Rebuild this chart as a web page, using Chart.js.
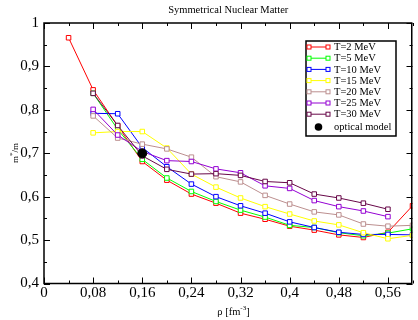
<!DOCTYPE html>
<html>
<head>
<meta charset="utf-8">
<script src="https://cdn.jsdelivr.net/npm/chart.js@4.4.0/dist/chart.umd.min.js"></script>
<style>
  html, body { margin: 0; padding: 0; background: #fff; }
  #wrap { width: 418px; height: 320px; }
</style>
</head>
<body>
<div id="wrap"><canvas id="chart" width="418" height="320"></canvas></div>
<script>
  // densities rho [fm^-3]
  const rho = [0.04, 0.08, 0.12, 0.16, 0.20, 0.24, 0.28, 0.32, 0.36, 0.40, 0.44, 0.48, 0.52, 0.56, 0.60];

  // effective mass ratio m*/m for each temperature
  const t2  = [0.966, 0.846, 0.763, 0.681, 0.638, 0.606, 0.585, 0.562, 0.548, 0.532, 0.523, 0.512, 0.506, 0.518, 0.579];
  const t5  = [null, 0.838, 0.755, 0.686, 0.643, 0.612, 0.589, 0.569, 0.553, 0.534, 0.529, 0.517, 0.510, 0.516, 0.526];
  const t10 = [null, 0.792, 0.791, 0.713, 0.669, 0.629, 0.600, 0.579, 0.562, 0.542, 0.529, 0.518, 0.513, 0.513, 0.512];
  const t15 = [null, 0.747, 0.750, 0.750, 0.712, 0.652, 0.622, 0.597, 0.577, 0.560, 0.544, 0.535, 0.517, 0.503, 0.511];
  const t20 = [null, 0.786, 0.735, 0.721, 0.710, 0.691, 0.646, 0.634, 0.603, 0.583, 0.565, 0.558, 0.537, 0.532, 0.534];
  const t25 = [null, 0.801, 0.742, 0.704, 0.683, 0.681, 0.664, 0.655, 0.625, 0.619, 0.591, 0.577, 0.567, 0.554, null];
  const t30 = [null, 0.838, 0.764, 0.694, 0.663, 0.652, 0.653, 0.649, 0.635, 0.632, 0.606, 0.597, 0.585, 0.571, null];

  const opticalRho = [0.16];
  const opticalMass = [0.70];

  const seriesLabels = ["T=2 MeV", "T=5 MeV", "T=10 MeV", "T=15 MeV", "T=20 MeV", "T=25 MeV", "T=30 MeV"];
  const seriesValues = [t2, t5, t10, t15, t20, t25, t30];
  const seriesColors = ["#ff0000", "#00ff00", "#0000ff", "#ffff00", "rgb(188,143,143)", "rgb(148,0,211)", "rgb(103,7,72)"];

  const xTicks = [0, 0.08, 0.16, 0.24, 0.32, 0.40, 0.48, 0.56];
  const yTicks = [0.4, 0.5, 0.6, 0.7, 0.8, 0.9, 1.0];

  const SERIF = "'Liberation Serif', 'DejaVu Serif', serif";
  const fmt = v => String(+v.toFixed(2)).replace(".", ",");

  const toPoints = (xs, ys) => xs.map((x, i) => ({ x, y: ys[i] })).filter(p => p.y !== null);

  const datasets = seriesValues.map((vals, i) => ({
    label: seriesLabels[i],
    data: toPoints(rho, vals),
    borderColor: seriesColors[i],
    backgroundColor: "#fff",
    borderWidth: 1,
    pointStyle: "rect",
    pointRadius: 3.2,
    pointBorderWidth: 1,
    pointBackgroundColor: "#fff",
    pointBorderColor: seriesColors[i],
    order: seriesValues.length - i
  }));
  datasets.push({
    label: "optical model",
    data: toPoints(opticalRho, opticalMass),
    showLine: false,
    pointStyle: "circle",
    pointRadius: 4.5,
    pointBackgroundColor: "#000",
    pointBorderColor: "#000",
    order: 0
  });

  // frame with inward ticks on all four sides
  const framePlugin = {
    id: "frame",
    afterDatasetsDraw(chart) {
      const { ctx, chartArea: a, scales: { x, y } } = chart;
      ctx.save();
      ctx.strokeStyle = "#000";
      ctx.lineWidth = 1;
      ctx.beginPath();
      for (let v = 0; v <= 0.6001; v += 0.04) {
        const px = Math.round(x.getPixelForValue(v)) + 0.5;
        const major = Math.abs(v / 0.08 - Math.round(v / 0.08)) < 1e-6;
        const len = major ? 6 : 3;
        ctx.moveTo(px, a.bottom); ctx.lineTo(px, a.bottom - len);
        ctx.moveTo(px, a.top); ctx.lineTo(px, a.top + len);
      }
      for (let v = 0.4; v <= 1.0001; v += 0.05) {
        const py = Math.round(y.getPixelForValue(v)) + 0.5;
        const major = Math.abs(v * 10 - Math.round(v * 10)) < 1e-6;
        const len = major ? 6 : 3;
        ctx.moveTo(a.left, py); ctx.lineTo(a.left + len, py);
        ctx.moveTo(a.right, py); ctx.lineTo(a.right - len, py);
      }
      ctx.stroke();
      ctx.lineWidth = 1.5;
      ctx.strokeRect(a.left, a.top, a.right - a.left - 0.75, a.bottom - a.top);
      ctx.restore();
    }
  };

  // title, axis titles and legend box
  const textPlugin = {
    id: "texts",
    afterDraw(chart) {
      const { ctx, chartArea: a } = chart;
      ctx.save();
      ctx.fillStyle = "#000";

      ctx.font = "10.5px " + SERIF;
      ctx.textAlign = "center";
      ctx.textBaseline = "middle";
      ctx.fillText("Symmetrical Nuclear Matter", (a.left + a.right) / 2, 10);

      // x axis title: rho [fm^-3]
      ctx.textAlign = "left";
      ctx.textBaseline = "alphabetic";
      ctx.font = "10.5px " + SERIF;
      const p1 = "ρ [fm", p3 = "]";
      const w1 = ctx.measureText(p1).width, w3 = ctx.measureText(p3).width;
      ctx.font = "7px " + SERIF;
      const p2 = "-3";
      const w2 = ctx.measureText(p2).width;
      let sx = 233.5 - (w1 + w2 + w3) / 2;
      ctx.font = "10.5px " + SERIF;
      ctx.fillText(p1, sx, 315);
      ctx.font = "7px " + SERIF;
      ctx.fillText(p2, sx + w1, 310);
      ctx.font = "10.5px " + SERIF;
      ctx.fillText(p3, sx + w1 + w2, 315);

      // y axis title: m*/m
      ctx.translate(18, 153);
      ctx.rotate(-Math.PI / 2);
      ctx.font = "9px " + SERIF;
      const m1 = "m", m3 = "/m";
      const q1 = ctx.measureText(m1).width, q3 = ctx.measureText(m3).width;
      ctx.font = "7px " + SERIF;
      const q2 = ctx.measureText("*").width;
      let sy = -(q1 + q2 + q3) / 2;
      ctx.font = "9px " + SERIF;
      ctx.fillText(m1, sy, 0);
      ctx.font = "7px " + SERIF;
      ctx.fillText("*", sy + q1, -4);
      ctx.font = "9px " + SERIF;
      ctx.fillText(m3, sy + q1 + q2, 0);
      ctx.setTransform(1, 0, 0, 1, 0, 0);

      // legend
      const bx = 306, by = 41, bw = 90, bh = 95;
      ctx.fillStyle = "#fff";
      ctx.fillRect(bx, by, bw, bh);
      ctx.strokeStyle = "#000";
      ctx.lineWidth = 1.5;
      ctx.strokeRect(bx, by, bw, bh);
      ctx.font = "10.5px " + SERIF;
      ctx.textAlign = "left";
      ctx.textBaseline = "middle";
      seriesLabels.forEach((lab, i) => {
        const ly = 47 + i * 11.2;
        ctx.strokeStyle = seriesColors[i];
        ctx.lineWidth = 1;
        ctx.beginPath();
        ctx.moveTo(309, ly); ctx.lineTo(328, ly);
        ctx.stroke();
        [309, 328].forEach(cx => {
          ctx.fillStyle = "#fff";
          ctx.fillRect(cx - 2, ly - 2, 4, 4);
          ctx.strokeRect(cx - 2, ly - 2, 4, 4);
        });
        ctx.fillStyle = "#000";
        ctx.fillText(lab, 334, ly + 0.5);
      });
      const oy = 127;
      ctx.beginPath();
      ctx.arc(318.5, oy, 3.8, 0, Math.PI * 2);
      ctx.fill();
      ctx.fillText("optical model", 334, oy + 0.5);
      ctx.restore();
    }
  };

  new Chart(document.getElementById("chart"), {
    type: "line",
    data: { datasets },
    options: {
      responsive: false,
      devicePixelRatio: 1,
      animation: false,
      layout: { padding: { top: 23, right: 0, bottom: 0, left: 0 } },
      plugins: { legend: { display: false }, title: { display: false }, tooltip: { enabled: false } },
      scales: {
        x: {
          type: "linear",
          min: 0,
          max: 0.6,
          grid: { display: false, drawTicks: false },
          border: { display: false },
          afterBuildTicks: s => { s.ticks = xTicks.map(v => ({ value: v })); },
          afterFit: s => { s.height = 36.5; },
          ticks: {
            color: "#000",
            font: { family: SERIF, size: 15 },
            padding: 1,
            maxRotation: 0,
            autoSkip: false,
            callback: v => fmt(v)
          }
        },
        y: {
          type: "linear",
          min: 0.4,
          max: 1,
          grid: { display: false, drawTicks: false },
          border: { display: false },
          afterBuildTicks: s => { s.ticks = yTicks.map(v => ({ value: v })); },
          afterFit: s => { s.width = 44; },
          ticks: {
            color: "#000",
            font: { family: SERIF, size: 15 },
            padding: 5,
            autoSkip: false,
            callback: v => fmt(v)
          }
        }
      }
    },
    plugins: [framePlugin, textPlugin]
  });
</script>
</body>
</html>
